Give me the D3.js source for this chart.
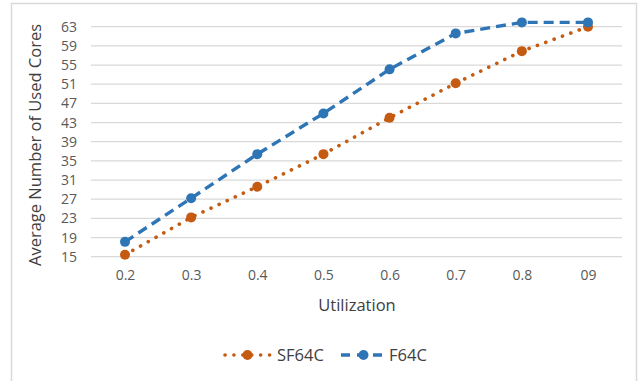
<!DOCTYPE html>
<html>
<head>
<meta charset="utf-8">
<script src="https://cdn.jsdelivr.net/npm/d3@7"></script>
<style>
  html, body { margin: 0; padding: 0; background: #fff; }
  svg { display: block; font-family: "Open Sans", "Noto Sans", sans-serif; }
</style>
</head>
<body>
<svg id="chart" width="641" height="381"></svg>
<script>
// Utilization levels on the x axis
const categories = ["0.2", "0.3", "0.4", "0.5", "0.6", "0.7", "0.8", "0.9"];
const xTickLabels = ["0.2", "0.3", "0.4", "0.5", "0.6", "0.7", "0.8", "09"];
// Average number of used cores per scheduler
const sf64c = [15.4, 23.2, 29.6, 36.4, 44.0, 51.2, 57.9, 63.0];
const f64c  = [18.1, 27.2, 36.4, 44.9, 54.1, 61.6, 63.9, 63.9];
const yTicks = [15, 19, 23, 27, 31, 35, 39, 43, 47, 51, 55, 59, 63];

const series = [
  { name: "SF64C", values: sf64c, color: "#C55A11", dash: "0.1 8.8", cap: "round", width: 3.6 },
  { name: "F64C",  values: f64c,  color: "#2E75B6", dash: "10 6",    cap: "butt",  width: 3.4 }
];

const svg = d3.select("#chart");

// outer chart frame
svg.append("rect")
  .attr("x", 11.5).attr("y", 3.5)
  .attr("width", 625).attr("height", 390)
  .attr("fill", "none").attr("stroke", "#d9d9d9").attr("stroke-width", 1.5);

const x = d3.scalePoint().domain(categories).range([125, 588]);
const y = d3.scaleLinear().domain([15, 63]).range([256.7, 26.7]);

// horizontal gridlines
svg.append("g").selectAll("line").data(yTicks).join("line")
  .attr("x1", 91).attr("x2", 622)
  .attr("y1", d => y(d)).attr("y2", d => y(d))
  .attr("stroke", "#d9d9d9").attr("stroke-width", 1.3);

// y axis labels
const yAxis = d3.axisLeft(y).tickValues(yTicks).tickSize(0).tickPadding(0);
const gy = svg.append("g").attr("transform", "translate(77,0)").call(yAxis);
gy.select(".domain").remove();
gy.selectAll("text")
  .attr("fill", "#595959").attr("font-size", 14)
  .attr("font-family", "'Open Sans', sans-serif");

// x axis labels
const xAxis = d3.axisBottom(x).tickSize(0).tickPadding(0)
  .tickFormat((d, i) => xTickLabels[i]);
const gx = svg.append("g").attr("transform", "translate(0,270)").call(xAxis);
gx.select(".domain").remove();
gx.selectAll("text")
  .attr("fill", "#595959").attr("font-size", 14)
  .attr("font-family", "'Open Sans', sans-serif");

// axis titles
svg.append("text")
  .attr("x", 357).attr("y", 311)
  .attr("text-anchor", "middle")
  .attr("fill", "#404040").attr("font-size", 16.5)
  .text("Utilization");

svg.append("text")
  .attr("transform", "translate(41,145) rotate(-90)")
  .attr("text-anchor", "middle")
  .attr("fill", "#404040").attr("font-size", 16.5)
  .text("Average Number of Used Cores");

// series lines and markers
const line = d3.line()
  .x((d, i) => x(categories[i]))
  .y(d => y(d));

series.forEach(s => {
  const g = svg.append("g");
  g.append("path")
    .datum(s.values)
    .attr("d", line)
    .attr("fill", "none")
    .attr("stroke", s.color)
    .attr("stroke-width", s.width)
    .attr("stroke-dasharray", s.dash)
    .attr("stroke-linecap", s.cap);
  g.selectAll("circle").data(s.values).join("circle")
    .attr("cx", (d, i) => x(categories[i]))
    .attr("cy", d => y(d))
    .attr("r", 5)
    .attr("fill", s.color);
});

// legend
const legendItems = [
  { s: series[0], x0: 225, x1: 270, tx: 277 },
  { s: series[1], x0: 341, x1: 386, tx: 389 }
];
const ly = 355;
legendItems.forEach(item => {
  const g = svg.append("g");
  g.append("line")
    .attr("x1", item.x0).attr("x2", item.x1)
    .attr("y1", ly).attr("y2", ly)
    .attr("stroke", item.s.color)
    .attr("stroke-width", item.s.width)
    .attr("stroke-dasharray", item.s.name === "F64C" ? "9 7" : item.s.dash)
    .attr("stroke-linecap", item.s.cap);
  g.append("circle")
    .attr("cx", (item.x0 + item.x1) / 2).attr("cy", ly).attr("r", 5)
    .attr("fill", item.s.color);
  g.append("text")
    .attr("x", item.tx).attr("y", ly).attr("dy", "0.35em")
    .attr("fill", "#404040").attr("font-size", 16.5)
    .text(item.s.name);
});
</script>
</body>
</html>
